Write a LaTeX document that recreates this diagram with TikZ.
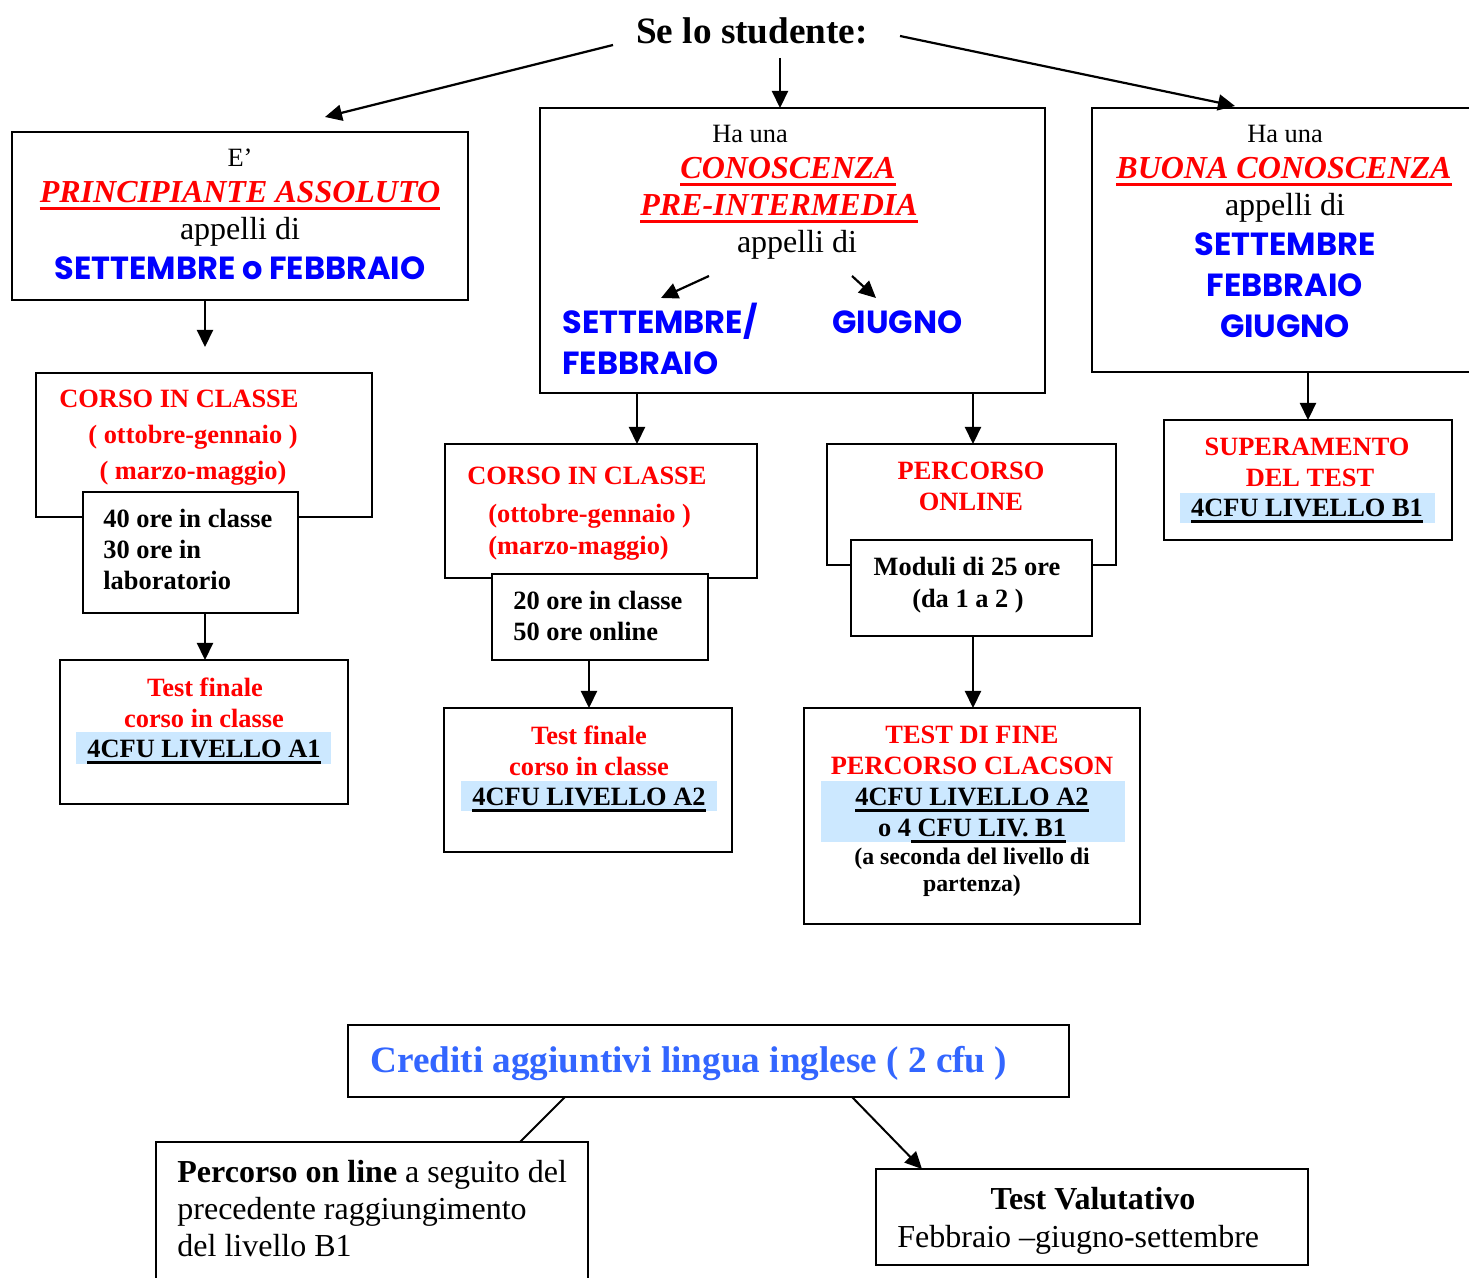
\documentclass[tikz,border=0pt]{standalone}
\usepackage{fontspec}
\setmainfont{Liberation Serif}
\newfontfamily\comicf{Poppins}
\usetikzlibrary{arrows.meta}
\definecolor{myred}{RGB}{255,0,0}
\definecolor{myblue}{RGB}{0,0,255}
\definecolor{cblue}{RGB}{51,102,255}
\definecolor{hl}{RGB}{204,232,255}
\newcommand\thul[3]{\setbox0\hbox{#3}\rlap{\rule[-#1]{\wd0}{#2}}\box0}
\newcommand\rul[1]{\thul{3.6pt}{1.5pt}{#1}}
\newcommand\bul[1]{\thul{3pt}{1.1pt}{#1}}
\newcommand\mybox[6][box]{\node[#1, minimum width={(#5-#3)*0.5pt}, minimum height={(#6-#4)*0.5pt}] (#2) at ({(#3+#5)/2},{(#4+#6)/2}) {};}
\tikzset{
  box/.style={draw, line width=1pt, fill=white, inner sep=0pt, outer sep=0pt},
  hlbox/.style={fill=hl, draw=none, inner sep=0pt, outer sep=0pt},
  t18/.style={font=\fontsize{18.6}{22}\selectfont\bfseries, anchor=base, yshift=-6.1pt, inner sep=0pt},
  t16/.style={font=\fontsize{16}{19}\selectfont, anchor=base, yshift=-5.3pt, inner sep=0pt},
  t13/.style={font=\fontsize{13.2}{16}\selectfont\bfseries, anchor=base, yshift=-4.35pt, inner sep=0pt},
  t13r/.style={font=\fontsize{13.2}{16}\selectfont, anchor=base, yshift=-4.35pt, inner sep=0pt},
  t12/.style={font=\fontsize{11.9}{14}\selectfont\bfseries, anchor=base, yshift=-3.9pt, inner sep=0pt},
  blc/.style={font=\fontsize{16}{19}\selectfont\comicf\bfseries, text=myblue, anchor=base, yshift=-5.6pt, inner sep=0pt},
  rbi/.style={text=myred, font=\fontsize{16}{19}\selectfont\bfseries\itshape},
  arr/.style={line width=1.1pt, -{Triangle[length=8.5pt,width=8pt]}},
}
\begin{document}
\begin{tikzpicture}[x=0.5pt,y=-0.5pt]
\clip (0,0) rectangle (1469,1278);
\fill[white] (0,0) rectangle (1469,1278);
% boxes
\mybox{bL}{12}{132}{468}{300}
\mybox{bM}{540}{108}{1045}{393}
\mybox{bR}{1092}{108}{1490}{372}
\mybox{cL}{36}{373}{372}{517}
\mybox{iL}{83}{492}{298}{613}
\mybox{tL}{60}{660}{348}{804}
\mybox{cM}{445}{444}{757}{578}
\mybox{iM}{492}{574}{708}{660}
\mybox{tM}{444}{708}{732}{852}
\mybox{pO}{827}{444}{1116}{565}
\mybox{iO}{851}{540}{1092}{636}
\mybox{tO}{804}{708}{1140}{924}
\mybox{sR}{1164}{420}{1452}{540}
\mybox{cr}{348}{1025}{1069}{1097}
\mybox{po}{156}{1142}{588}{1300}
\mybox{tv}{876}{1169}{1308}{1265}
% highlights
\mybox[hlbox]{hL}{76}{732}{331}{764}
\mybox[hlbox]{hM}{461}{781}{717}{811}
\mybox[hlbox]{hO}{821}{781}{1125}{842}
\mybox[hlbox]{hR}{1180}{493}{1435}{523}
% heading
\node[t18] (head) at (752,31) {Se lo studente:};
% left top box
\node[t13r] (bL1) at (240,158) {E’};
\node[t16, rbi] (bL2) at (240,192) {\rul{PRINCIPIANTE ASSOLUTO}};
\node[t16] (bL3) at (240,229) {appelli di};
\node[blc] (bL4) at (240,268) {SETTEMBRE o FEBBRAIO};
% middle top box
\node[t13r] (bM1) at (750,134) {Ha una};
\node[t16, rbi] (bM2) at (788,168) {\rul{CONOSCENZA}};
\node[t16, rbi] (bM3) at (779,205) {\rul{PRE-INTERMEDIA}};
\node[t16] (bM4) at (797,242) {appelli di};
\node[blc, anchor=base west] (bM5) at (562,322) {SETTEMBRE/};
\node[blc, anchor=base west] (bM6) at (562,363) {FEBBRAIO};
\node[blc, anchor=base west] (bM7) at (832,322) {GIUGNO};
\coordinate (m1s) at (709,276);
\coordinate (m1e) at (661,298);
\coordinate (m2s) at (852,276);
\coordinate (m2e) at (876,298);
\draw[arr] (m1s) -- (m1e);
\draw[arr] (m2s) -- (m2e);
% right top box
\node[t13r] (bR1) at (1285,134) {Ha una};
\node[t16, rbi] (bR2) at (1284,168) {\rul{BUONA CONOSCENZA}};
\node[t16] (bR3) at (1285,205) {appelli di};
\node[blc] (bR4) at (1285,244) {SETTEMBRE};
\node[blc] (bR5) at (1285,285) {FEBBRAIO};
\node[blc] (bR6) at (1285,326) {GIUGNO};
% left column
\node[t13, text=myred, anchor=base west] (cL1) at (59,399) {CORSO IN CLASSE};
\node[t13, text=myred] (cL2) at (193,435) {( ottobre-gennaio )};
\node[t13, text=myred] (cL3) at (193,471) {( marzo-maggio)};
\node[t13, anchor=base west] (iL1) at (103,519) {40 ore in classe};
\node[t13, anchor=base west] (iL2) at (103,550) {30 ore in};
\node[t13, anchor=base west] (iL3) at (103,581) {laboratorio};
\node[t13, text=myred] (tL1) at (205,688) {Test finale};
\node[t13, text=myred] (tL2) at (204,719) {corso in classe};
\node[t13] (tL3) at (204,749) {\bul{4CFU LIVELLO A1}};
% middle column
\node[t13, text=myred, anchor=base west] (cM1) at (467,476) {CORSO IN CLASSE};
\node[t13, text=myred, anchor=base west] (cM2) at (488,514) {(ottobre-gennaio )};
\node[t13, text=myred, anchor=base west] (cM3) at (488,546) {(marzo-maggio)};
\node[t13, anchor=base west] (iM1) at (513,601) {20 ore in classe};
\node[t13, anchor=base west] (iM2) at (513,632) {50 ore online};
\node[t13, text=myred] (tM1) at (589,736) {Test finale};
\node[t13, text=myred] (tM2) at (589,767) {corso in classe};
\node[t13] (tM3) at (589,797) {\bul{4CFU LIVELLO A2}};
% online column
\node[t13, text=myred] (pO1) at (971,471) {PERCORSO};
\node[t13, text=myred] (pO2) at (971,502) {ONLINE};
\node[t13] (iO1) at (967,567) {Moduli di 25 ore};
\node[t13] (iO2) at (968,599) {(da 1 a 2 )};
\node[t13, text=myred] (tO1) at (972,735) {TEST DI FINE};
\node[t13, text=myred] (tO2) at (972,766) {PERCORSO CLACSON};
\node[t13] (tO3) at (972,797) {\bul{4CFU LIVELLO A2}};
\node[t13] (tO4) at (972,828) {o 4\bul{\ CFU LIV. B1}};
\node[t12] (tO5) at (972,857) {(a seconda del livello di};
\node[t12] (tO6) at (972,884) {partenza)};
% right column
\node[t13, text=myred] (sR1) at (1307,447) {SUPERAMENTO};
\node[t13, text=myred] (sR2) at (1310,478) {DEL TEST};
\node[t13] (sR3) at (1307,508) {\bul{4CFU LIVELLO B1}};
% bottom
\node[t18, text=cblue, anchor=base west] (cr1) at (370,1060) {Crediti aggiuntivi lingua inglese ( 2 cfu )};
\node[t16, anchor=base west] (po1) at (177,1172) {\textbf{Percorso on line} a seguito del};
\node[t16, anchor=base west] (po2) at (177,1209) {precedente raggiungimento};
\node[t16, anchor=base west] (po3) at (177,1246) {del livello B1};
\node[t16, font=\fontsize{16}{19}\selectfont\bfseries] (tv1) at (1093,1199) {Test Valutativo};
\node[t16, anchor=base west] (tv2) at (897,1237) {Febbraio –giugno-settembre};
% top arrows
\coordinate (aLs) at (613,45);
\coordinate (aLe) at (325,117);
\coordinate (aMs) at (780,58);
\coordinate (aRs) at (900,36);
\coordinate (aRe) at (1235,106);
\coordinate (dLe) at (205,347);
\draw[arr] (aLs) -- (aLe);
\draw[arr] (aMs) -- (bM.north -| aMs);
\draw[arr] (aRs) -- (aRe);
\draw[arr] (bL.south -| dLe) -- (dLe);
\draw[arr] (bM.south -| 637,0) -- (cM.north -| 637,0);
\draw[arr] (bM.south -| 973,0) -- (pO.north -| 973,0);
\draw[arr] (bR.south -| 1308,0) -- (sR.north -| 1308,0);
\draw[arr] (iL.south -| 205,0) -- (tL.north -| 205,0);
\draw[arr] (iM.south -| 589,0) -- (tM.north -| 589,0);
\draw[arr] (iO.south -| 973,0) -- (tO.north -| 973,0);
\draw[line width=1pt] (cr.south -| 565,0) -- (po.north -| 520,0);
\draw[arr, line width=1pt] (cr.south -| 852,0) -- (tv.north -| 922,0);
\end{tikzpicture}
\end{document}
